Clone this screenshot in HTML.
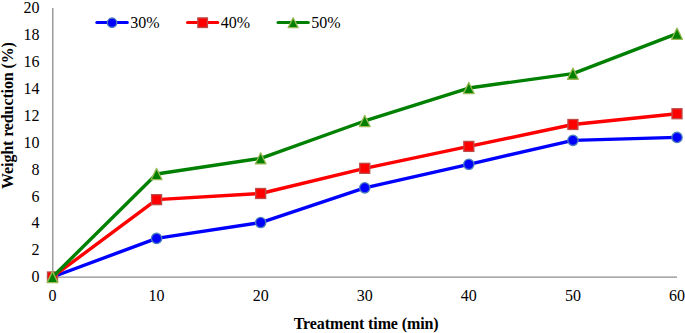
<!DOCTYPE html>
<html><head><meta charset="utf-8"><style>
html,body{margin:0;padding:0;background:#fff;}
svg{display:block;}
.t{font-family:"Liberation Serif",serif;font-size:16px;fill:#000;}
.b{font-family:"Liberation Serif",serif;font-size:16px;font-weight:bold;fill:#000;}
</style></head><body>
<svg width="685" height="333" viewBox="0 0 685 333">
<rect width="685" height="333" fill="#fff"/>
<line x1="52.8" y1="8" x2="52.8" y2="277.5" stroke="#8c8c8c" stroke-width="1.3"/>
<line x1="52" y1="277.2" x2="677" y2="277.2" stroke="#8c8c8c" stroke-width="1.3"/>
<text x="39.4" y="282.20" text-anchor="end" class="t">0</text>
<text x="39.4" y="255.30" text-anchor="end" class="t">2</text>
<text x="39.4" y="228.40" text-anchor="end" class="t">4</text>
<text x="39.4" y="201.50" text-anchor="end" class="t">6</text>
<text x="39.4" y="174.60" text-anchor="end" class="t">8</text>
<text x="39.4" y="147.70" text-anchor="end" class="t">10</text>
<text x="39.4" y="120.80" text-anchor="end" class="t">12</text>
<text x="39.4" y="93.90" text-anchor="end" class="t">14</text>
<text x="39.4" y="67.00" text-anchor="end" class="t">16</text>
<text x="39.4" y="40.10" text-anchor="end" class="t">18</text>
<text x="39.4" y="13.20" text-anchor="end" class="t">20</text>
<text x="52.50" y="300.8" text-anchor="middle" class="t">0</text>
<text x="156.58" y="300.8" text-anchor="middle" class="t">10</text>
<text x="260.67" y="300.8" text-anchor="middle" class="t">20</text>
<text x="364.75" y="300.8" text-anchor="middle" class="t">30</text>
<text x="468.83" y="300.8" text-anchor="middle" class="t">40</text>
<text x="572.92" y="300.8" text-anchor="middle" class="t">50</text>
<text x="677.00" y="300.8" text-anchor="middle" class="t">60</text>
<polyline points="52.50,277.00 156.58,238.40 260.67,222.53 364.75,187.83 468.83,164.29 572.92,140.35 677.00,137.39" fill="none" stroke="#0000FF" stroke-width="3.4" stroke-linejoin="round" stroke-linecap="round"/>
<circle cx="52.50" cy="277.00" r="5.15" fill="#0000FF" stroke="#4A7EBB" stroke-width="1.3"/>
<circle cx="156.58" cy="238.40" r="5.15" fill="#0000FF" stroke="#4A7EBB" stroke-width="1.3"/>
<circle cx="260.67" cy="222.53" r="5.15" fill="#0000FF" stroke="#4A7EBB" stroke-width="1.3"/>
<circle cx="364.75" cy="187.83" r="5.15" fill="#0000FF" stroke="#4A7EBB" stroke-width="1.3"/>
<circle cx="468.83" cy="164.29" r="5.15" fill="#0000FF" stroke="#4A7EBB" stroke-width="1.3"/>
<circle cx="572.92" cy="140.35" r="5.15" fill="#0000FF" stroke="#4A7EBB" stroke-width="1.3"/>
<circle cx="677.00" cy="137.39" r="5.15" fill="#0000FF" stroke="#4A7EBB" stroke-width="1.3"/>
<polyline points="52.50,277.00 156.58,199.66 260.67,193.48 364.75,168.32 468.83,146.40 572.92,124.48 677.00,113.72" fill="none" stroke="#FF0000" stroke-width="3.4" stroke-linejoin="round" stroke-linecap="round"/>
<rect x="47.50" y="272.00" width="10.00" height="10.00" fill="#FF0000" stroke="#BE4B48" stroke-width="1.3"/>
<rect x="151.58" y="194.66" width="10.00" height="10.00" fill="#FF0000" stroke="#BE4B48" stroke-width="1.3"/>
<rect x="255.67" y="188.48" width="10.00" height="10.00" fill="#FF0000" stroke="#BE4B48" stroke-width="1.3"/>
<rect x="359.75" y="163.32" width="10.00" height="10.00" fill="#FF0000" stroke="#BE4B48" stroke-width="1.3"/>
<rect x="463.83" y="141.40" width="10.00" height="10.00" fill="#FF0000" stroke="#BE4B48" stroke-width="1.3"/>
<rect x="567.92" y="119.48" width="10.00" height="10.00" fill="#FF0000" stroke="#BE4B48" stroke-width="1.3"/>
<rect x="672.00" y="108.72" width="10.00" height="10.00" fill="#FF0000" stroke="#BE4B48" stroke-width="1.3"/>
<polyline points="52.50,277.00 156.58,173.97 260.67,158.37 364.75,120.98 468.83,88.03 572.92,73.64 677.00,33.69" fill="none" stroke="#008000" stroke-width="3.4" stroke-linejoin="round" stroke-linecap="round"/>
<path d="M52.50,271.40L57.90,282.60L47.10,282.60Z" fill="#008000" stroke="#98B954" stroke-width="1.3" stroke-linejoin="round"/>
<path d="M156.58,168.37L161.98,179.57L151.18,179.57Z" fill="#008000" stroke="#98B954" stroke-width="1.3" stroke-linejoin="round"/>
<path d="M260.67,152.77L266.07,163.97L255.27,163.97Z" fill="#008000" stroke="#98B954" stroke-width="1.3" stroke-linejoin="round"/>
<path d="M364.75,115.38L370.15,126.58L359.35,126.58Z" fill="#008000" stroke="#98B954" stroke-width="1.3" stroke-linejoin="round"/>
<path d="M468.83,82.43L474.23,93.63L463.43,93.63Z" fill="#008000" stroke="#98B954" stroke-width="1.3" stroke-linejoin="round"/>
<path d="M572.92,68.04L578.32,79.24L567.52,79.24Z" fill="#008000" stroke="#98B954" stroke-width="1.3" stroke-linejoin="round"/>
<path d="M677.00,28.09L682.40,39.29L671.60,39.29Z" fill="#008000" stroke="#98B954" stroke-width="1.3" stroke-linejoin="round"/>
<line x1="96.8" y1="22.4" x2="127.30000000000001" y2="22.4" stroke="#0000FF" stroke-width="3" stroke-linecap="round"/>
<circle cx="112.05" cy="22.70" r="4.7" fill="#0000FF" stroke="#4A7EBB" stroke-width="1.3"/>
<text x="130.3" y="27.9" class="t">30%</text>
<line x1="187.5" y1="22.4" x2="217.8" y2="22.4" stroke="#FF0000" stroke-width="3" stroke-linecap="round"/>
<rect x="197.85" y="17.90" width="9.60" height="9.60" fill="#FF0000" stroke="#BE4B48" stroke-width="1.3"/>
<text x="220.8" y="27.9" class="t">40%</text>
<line x1="278.0" y1="22.4" x2="308.3" y2="22.4" stroke="#008000" stroke-width="3" stroke-linecap="round"/>
<path d="M293.15,17.80L298.15,27.60L288.15,27.60Z" fill="#008000" stroke="#98B954" stroke-width="1.3" stroke-linejoin="round"/>
<text x="311.3" y="27.9" class="t">50%</text>
<text x="366.2" y="329" text-anchor="middle" class="b" textLength="145" lengthAdjust="spacing">Treatment time (min)</text>
<text transform="translate(12.8,115.5) rotate(-90)" text-anchor="middle" class="b" textLength="146.9" lengthAdjust="spacing">Weight reduction (%)</text>
</svg>
</body></html>
